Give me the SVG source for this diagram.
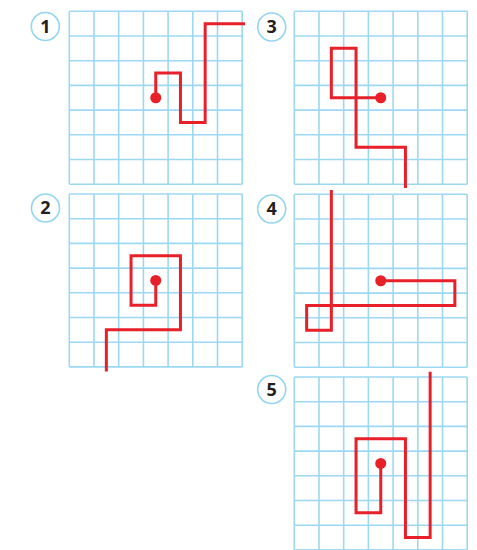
<svg xmlns="http://www.w3.org/2000/svg" xmlns:xlink="http://www.w3.org/1999/xlink" width="477" height="550" viewBox="0 0 477 550">
<style>
.grid line{stroke:#9dd8f2;stroke-width:1.6;}
.route{fill:none;stroke:#e8202a;stroke-width:3;stroke-linejoin:miter;}
.dot{fill:#e8202a;}
.badge circle{fill:#fff;stroke:#93d5f1;stroke-width:1.6;}
.badge text{font-family:"Open Sans","Liberation Sans",sans-serif;font-weight:bold;font-size:18px;fill:#231f20;text-anchor:middle;}
</style>
<defs>
<g id="grid" class="grid">
<line x1="0" y1="0" x2="0" y2="172.9"/><line x1="24.7" y1="0" x2="24.7" y2="172.9"/><line x1="49.4" y1="0" x2="49.4" y2="172.9"/><line x1="74.1" y1="0" x2="74.1" y2="172.9"/><line x1="98.8" y1="0" x2="98.8" y2="172.9"/><line x1="123.5" y1="0" x2="123.5" y2="172.9"/><line x1="148.2" y1="0" x2="148.2" y2="172.9"/><line x1="172.9" y1="0" x2="172.9" y2="172.9"/>
<line x1="0" y1="0" x2="172.9" y2="0"/><line x1="0" y1="24.7" x2="172.9" y2="24.7"/><line x1="0" y1="49.4" x2="172.9" y2="49.4"/><line x1="0" y1="74.1" x2="172.9" y2="74.1"/><line x1="0" y1="98.8" x2="172.9" y2="98.8"/><line x1="0" y1="123.5" x2="172.9" y2="123.5"/><line x1="0" y1="148.2" x2="172.9" y2="148.2"/><line x1="0" y1="172.9" x2="172.9" y2="172.9"/>
</g>
</defs>
<rect width="477" height="550" fill="#fff"/>

<g id="panel1">
<use xlink:href="#grid" href="#grid" transform="translate(69.3,11.3)"/>
<g class="badge"><circle cx="45.3" cy="26.5" r="14"/><text x="45.3" y="32.8">1</text></g>
<path class="route" d="M155.75,97.75 V73.05 H180.45 V122.45 H205.15 V23.65 H245"/>
<circle class="dot" cx="155.75" cy="97.75" r="5.5"/>
</g>

<g id="panel3">
<use xlink:href="#grid" href="#grid" transform="translate(294.3,11.3)"/>
<g class="badge"><circle cx="271.7" cy="27" r="14"/><text x="271.7" y="33.3">3</text></g>
<path class="route" d="M380.75,97.75 H331.35 V48.35 H356.05 V147.15 H405.45 V188"/>
<circle class="dot" cx="380.75" cy="97.75" r="5.5"/>
</g>

<g id="panel2">
<use xlink:href="#grid" href="#grid" transform="translate(69.3,194)"/>
<g class="badge"><circle cx="45.5" cy="208" r="14"/><text x="45.5" y="214.3">2</text></g>
<path class="route" d="M155.75,280.45 V305.15 H131.05 V255.75 H180.45 V329.85 H106.35 V371.5"/>
<circle class="dot" cx="155.75" cy="280.45" r="5.5"/>
</g>

<g id="panel4">
<use xlink:href="#grid" href="#grid" transform="translate(294.3,194.3)"/>
<g class="badge"><circle cx="271.7" cy="209" r="14"/><text x="271.7" y="215.3">4</text></g>
<path class="route" d="M380.75,280.75 H454.85 V305.45 H306.65 V330.15 H331.35 V190"/>
<circle class="dot" cx="380.75" cy="280.75" r="5.5"/>
</g>

<g id="panel5">
<use xlink:href="#grid" href="#grid" transform="translate(294.3,377)"/>
<g class="badge"><circle cx="271.7" cy="389.5" r="14"/><text x="271.7" y="395.8">5</text></g>
<path class="route" d="M380.75,463.45 V512.85 H356.05 V438.75 H405.45 V537.55 H430.15 V371.7"/>
<circle class="dot" cx="380.75" cy="463.45" r="5.5"/>
</g>
</svg>
